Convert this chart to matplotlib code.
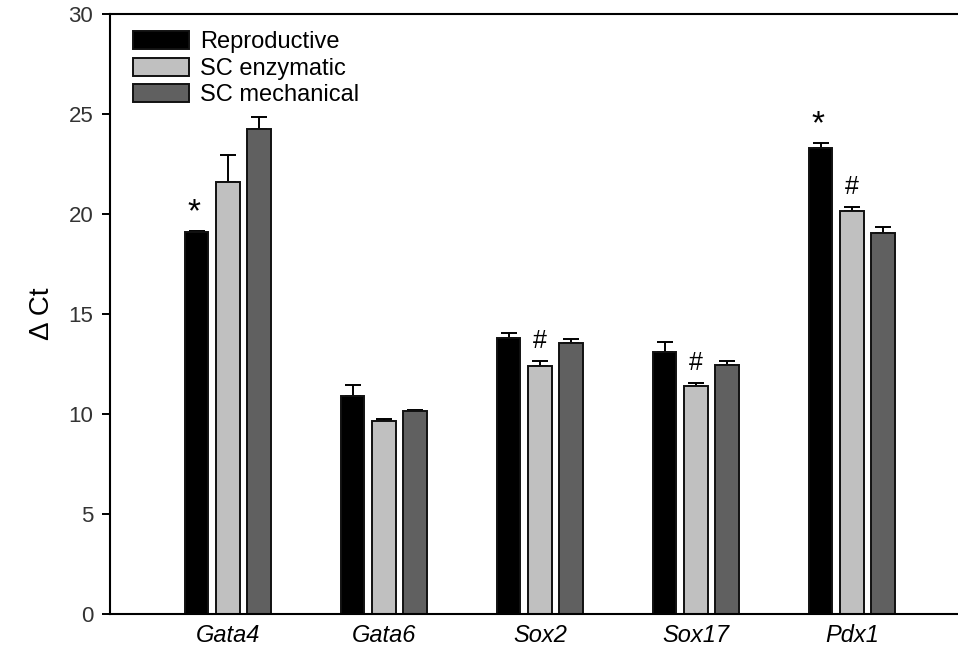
import numpy as np
import matplotlib
matplotlib.use("Agg")
import matplotlib.pyplot as plt

plt.rcParams['font.family'] = ['Liberation Sans', 'DejaVu Sans']

# datos
genes = ['Gata4', 'Gata6', 'Sox2', 'Sox17', 'Pdx1']
grupos = ['Reproductive', 'SC enzymatic', 'SC mechanical']
reproductive = [19.1, 10.9, 13.8, 13.1, 23.3]
reproductive_err = [0.05, 0.55, 0.25, 0.5, 0.25]
sc_enzymatic = [21.6, 9.65, 12.4, 11.4, 20.15]
sc_enzymatic_err = [1.35, 0.08, 0.25, 0.15, 0.2]
sc_mechanical = [24.25, 10.15, 13.55, 12.45, 19.05]
sc_mechanical_err = [0.6, 0.05, 0.2, 0.2, 0.3]
# marcas de significancia: (gen, grupo, simbolo)
marcas = [(0, 0, '*'), (4, 0, '*'), (2, 1, '#'), (3, 1, '#'), (4, 1, '#')]

colores = ['#000000', '#c0c0c0', '#606060']
valores = [reproductive, sc_enzymatic, sc_mechanical]
errores = [reproductive_err, sc_enzymatic_err, sc_mechanical_err]

fig = plt.figure(figsize=(9.58, 6.45), dpi=100)
ax = fig.add_axes([110/958, 31/645, 848/958, 600/645])

x = np.arange(len(genes))
paso = 0.2
ancho = 0.15
for i in range(3):
    pos = x + (i - 1) * paso
    ax.bar(pos, valores[i], width=ancho, color=colores[i], edgecolor='#111111',
           linewidth=1.4, label=grupos[i], zorder=2)
    ax.errorbar(pos, valores[i], yerr=[np.zeros(len(genes)), errores[i]],
                fmt='none', ecolor='black', elinewidth=1.4, capsize=6,
                capthick=1.4, zorder=1)

for g, k, s in marcas:
    xpos = x[g] + (k - 1) * paso
    ypos = valores[k][g] + errores[k][g] + 1.0
    if s == '*':
        ax.text(xpos - 0.02, ypos - 0.1, s, ha='center', va='center', fontsize=24)
    else:
        ax.text(xpos, ypos, s, ha='center', va='center', fontsize=18)

ax.set_xlim(-0.756, 4.68)
ax.set_ylim(0, 30)
ax.set_yticks([0, 5, 10, 15, 20, 25, 30])
ax.set_xticks(x)
ax.set_xticklabels(genes, fontstyle='italic', fontsize=17)
ax.tick_params(axis='x', length=0, pad=7)
ax.tick_params(axis='y', direction='out', length=6, width=1.4, labelsize=16,
               pad=6, labelcolor='#333333')
ax.set_ylabel('Δ Ct', fontsize=20, labelpad=10)

ax.spines['right'].set_visible(False)
for s in ['left', 'top', 'bottom']:
    ax.spines[s].set_linewidth(1.5)

ax.legend(loc='upper left', bbox_to_anchor=(0.01, 0.995), frameon=False,
          fontsize=17, handlelength=2.4, handleheight=0.8, labelspacing=0.18,
          handletextpad=0.45, borderaxespad=0.2)

fig.savefig('out.png', dpi=100)
